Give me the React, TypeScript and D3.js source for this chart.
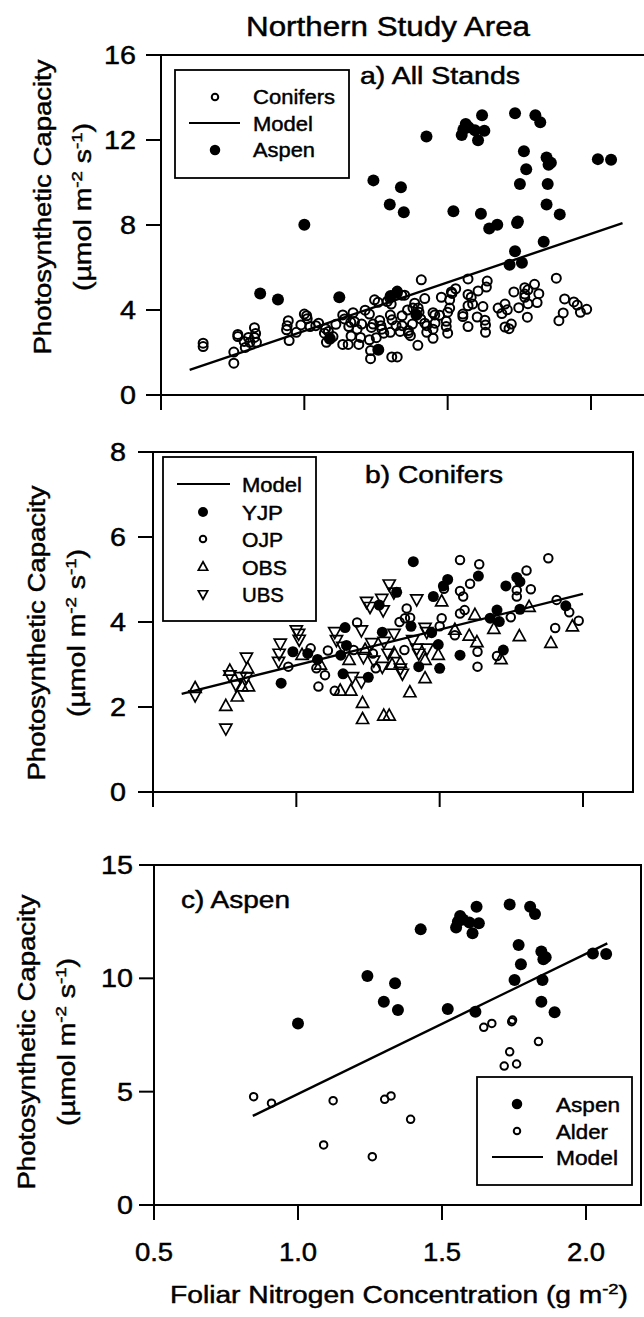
import React from "react";
import * as d3 from "d3";

const FONT = "'Liberation Sans', Arial, Helvetica, sans-serif";

// ---------------- data ----------------
type P = [number, number];

const yjp: P[] = [
  [0.947, 2.56], [0.988, 3.3], [1.04, 3.26], [1.074, 3.12], [1.155, 3.22], [1.17, 3.87], [1.163, 2.78],
  [1.175, 3.45], [1.251, 2.7], [1.289, 4.4], [1.3, 3.76], [1.35, 4.7], [1.408, 5.42], [1.4, 3.9],
  [1.427, 2.95], [1.472, 3.75], [1.478, 4.6], [1.495, 3.47], [1.5, 2.91], [1.513, 4.85], [1.528, 5.0],
  [1.571, 3.22], [1.635, 5.08], [1.676, 4.09], [1.7, 4.28], [1.708, 4.01], [1.722, 3.34], [1.731, 4.85],
  [1.769, 5.05], [1.78, 4.95], [1.78, 4.3], [1.94, 4.38],
];

const ojp: P[] = [
  [0.972, 2.95], [1.05, 3.38], [1.07, 2.91], [1.1, 2.75], [1.077, 2.48], [1.11, 3.33], [1.134, 2.38],
  [1.212, 3.99], [1.2, 3.34], [1.267, 3.26], [1.277, 2.91], [1.377, 3.34], [1.379, 4.09], [1.397, 4.1],
  [1.385, 4.32], [1.36, 4.0], [1.5, 3.9], [1.507, 4.09], [1.515, 4.78], [1.553, 3.69], [1.571, 5.46],
  [1.571, 4.73], [1.582, 4.6], [1.571, 4.2], [1.587, 4.28], [1.606, 4.9], [1.632, 3.3], [1.632, 2.95],
  [1.638, 5.36], [1.7, 3.2], [1.748, 4.11], [1.769, 4.75], [1.769, 4.6], [1.803, 5.21], [1.818, 4.77],
  [1.879, 5.5], [1.903, 3.86], [1.908, 4.52], [1.952, 4.23], [1.985, 4.03],
];

const obs: P[] = [
  [0.647, 2.44], [0.754, 2.02], [0.768, 2.85], [0.794, 2.24], [0.83, 2.9], [0.81, 2.48], [0.833, 2.48],
  [1.02, 3.22], [1.084, 2.99], [1.153, 2.38], [1.19, 2.38], [1.184, 3.1], [1.231, 2.09], [1.231, 1.71],
  [1.24, 3.34], [1.305, 1.79], [1.324, 1.79], [1.334, 2.99], [1.341, 3.26], [1.363, 3.03], [1.396, 2.34],
  [1.449, 2.67], [1.449, 3.1], [1.495, 3.22], [1.507, 4.48], [1.553, 3.81], [1.603, 3.67], [1.623, 4.16],
  [1.63, 3.52], [1.689, 3.83], [1.714, 3.12], [1.778, 3.66], [1.812, 4.35], [1.888, 3.5], [1.963, 3.89],
];

const ubs: P[] = [
  [0.647, 2.28], [0.754, 1.5], [0.768, 2.75], [0.79, 2.52], [0.826, 3.17], [0.826, 2.71], [0.805, 2.71],
  [0.944, 3.5], [0.94, 3.26], [0.938, 3.07], [1.0, 3.81], [1.008, 3.73], [1.01, 3.59], [1.134, 3.77],
  [1.14, 3.58], [1.227, 3.81], [1.162, 3.42], [1.196, 2.71], [1.227, 2.6], [1.234, 3.18], [1.263, 3.51],
  [1.27, 3.1], [1.245, 4.48], [1.257, 4.36], [1.3, 2.95], [1.32, 3.26], [1.306, 3.54], [1.341, 3.73],
  [1.363, 2.91], [1.37, 2.79], [1.406, 3.58], [1.42, 3.38], [1.427, 3.26], [1.449, 3.87], [1.456, 3.38],
  [1.298, 4.55], [1.303, 4.28], [1.324, 4.89], [1.34, 4.7], [1.42, 4.54], [1.455, 3.77],
];

const aspen: P[] = [
  [1.0, 8.01], [1.241, 10.1], [1.298, 8.97], [1.337, 9.78], [1.347, 8.6], [1.426, 12.16], [1.52, 8.65],
  [1.549, 12.24], [1.555, 12.5], [1.563, 12.75], [1.573, 12.6], [1.595, 12.46], [1.606, 11.99],
  [1.62, 13.16], [1.628, 12.43], [1.616, 8.53], [1.735, 13.26], [1.806, 13.16], [1.823, 12.84],
  [1.766, 11.47], [1.774, 10.62], [1.752, 9.93], [1.845, 11.18], [1.852, 10.84], [1.86, 10.93],
  [1.849, 9.93], [1.845, 8.97], [1.891, 8.5], [2.024, 11.1], [2.07, 11.07],
];

const alder: P[] = [
  [0.846, 4.78], [0.908, 4.49], [1.122, 4.6], [1.089, 2.65], [1.301, 4.66], [1.323, 4.81], [1.258, 2.13],
  [1.391, 3.78], [1.645, 7.84], [1.673, 8.01], [1.745, 8.16], [1.742, 8.09], [1.735, 6.76], [1.716, 6.13],
  [1.759, 6.22], [1.835, 7.21],
];

const modelA: P[] = [[0.6, 1.18], [2.11, 8.09]];
const modelB: P[] = [[0.6, 2.31], [2.0, 4.66]];
const modelC: P[] = [[0.843, 3.93], [2.074, 11.54]];

const xTicks = [0.5, 1.0, 1.5, 2.0];
const xTickLabels = ["0.5", "1.0", "1.5", "2.0"];
const yTicksA = [0, 4, 8, 12, 16];
const yTicksB = [0, 2, 4, 6, 8];
const yTicksC = [0, 5, 10, 15];

// ---------------- helpers ----------------
function Txt(props: {
  x: number; y: number; size: number; anchor?: string; rot?: number; w?: number; sx?: number;
  children: React.ReactNode;
}) {
  const { x, y, size, anchor = "start", rot = 0, w, sx = 1.2, children } = props;
  const tf = `translate(${x},${y}) rotate(${rot})` + (w ? "" : ` scale(${sx},1)`);
  return (
    <text
      transform={tf}
      fontSize={size}
      textAnchor={anchor as any}
      fontFamily={FONT}
      fill="#000"
      stroke="#000"
      strokeWidth={0.45}
      {...(w ? { textLength: w, lengthAdjust: "spacingAndGlyphs" } : {})}
    >
      {children}
    </text>
  );
}

const triUp = (s: number) => `M0,${-s * 0.62}L${s * 0.55},${s * 0.38}L${-s * 0.55},${s * 0.38}Z`;
const triDown = (s: number) => `M0,${s * 0.62}L${s * 0.55},${-s * 0.38}L${-s * 0.55},${-s * 0.38}Z`;

type Mark = "open" | "filled" | "up" | "down";
function Marker({ x, y, kind, size, sw = 2 }: { x: number; y: number; kind: Mark; size: number; sw?: number }) {
  if (kind === "filled") return <circle cx={x} cy={y} r={size / 2} fill="#000" />;
  if (kind === "open")
    return <circle cx={x} cy={y} r={size / 2 - sw / 2} fill="none" stroke="#000" strokeWidth={sw} />;
  return (
    <path
      transform={`translate(${x},${y})`}
      d={kind === "up" ? triUp(size) : triDown(size)}
      fill="none"
      stroke="#000"
      strokeWidth={1.7}
      strokeLinejoin="miter"
    />
  );
}

function Axes({
  x, y, right, yTicks, yLabelRight, showX,
}: {
  x: d3.ScaleLinear<number, number>; y: d3.ScaleLinear<number, number>; right: number;
  yTicks: number[]; yLabelRight: number; showX: boolean;
}) {
  const [y0, y1] = y.range();
  const x0 = x(0.5);
  return (
    <g>
      <rect x={x0} y={y1} width={right - x0} height={y0 - y1} fill="none" stroke="#000" strokeWidth={2} />
      {yTicks.map((t) => (
        <g key={"y" + t}>
          <line x1={x0 - 15} x2={x0} y1={y(t)} y2={y(t)} stroke="#000" strokeWidth={2} />
          <Txt x={yLabelRight} y={y(t) + 9} size={25} anchor="end" sx={1.15}>{String(t)}</Txt>
        </g>
      ))}
      {xTicks.map((t, i) => (
        <g key={"x" + t}>
          <line x1={x(t)} x2={x(t)} y1={y0} y2={y0 + 15} stroke="#000" strokeWidth={2} />
          {showX && <Txt x={x(t)} y={y0 + 56} size={25} anchor="middle" sx={1.1}>{xTickLabels[i]}</Txt>}
        </g>
      ))}
    </g>
  );
}

function YTitle({ x1, x2, cy }: { x1: number; x2: number; cy: number }) {
  return (
    <g>
      <Txt x={x1} y={cy} size={23} anchor="middle" rot={-90} w={295}>Photosynthetic Capacity</Txt>
      <Txt x={x2} y={cy} size={23} anchor="middle" rot={-90} w={168}>
        (µmol m<tspan dy={-9} fontSize={15}>-2</tspan>
        <tspan dy={9}> s</tspan>
        <tspan dy={-9} fontSize={15}>-1</tspan>
        <tspan dy={9}>)</tspan>
      </Txt>
    </g>
  );
}

function ModelLine({ pts, x, y }: { pts: P[]; x: any; y: any }) {
  const line = d3.line<P>().x((d) => x(d[0])).y((d) => y(d[1]));
  return <path d={line(pts) || ""} fill="none" stroke="#000" strokeWidth={2.4} />;
}

export default function App() {
  const xA = d3.scaleLinear().domain([0.5, 2.0]).range([161, 591]);
  const yA = d3.scaleLinear().domain([0, 16]).range([395, 55]);
  const xB = d3.scaleLinear().domain([0.5, 2.0]).range([153, 583]);
  const yB = d3.scaleLinear().domain([0, 8]).range([792, 452]);
  const xC = d3.scaleLinear().domain([0.5, 2.0]).range([154, 586]);
  const yC = d3.scaleLinear().domain([0, 15]).range([1205, 865]);

  const conifersAll: P[] = [...yjp, ...ojp, ...obs, ...ubs];
  const aspenAll: P[] = [...aspen, ...alder];

  return (
    <svg
      width={644}
      height={1317}
      style={{ position: "absolute", left: 0, top: 0, background: "#fff", display: "block" }}
    >
      <rect x={0} y={0} width={644} height={1317} fill="#fff" />
      <Txt x={246} y={36} size={27} w={284}>Northern Study Area</Txt>

      {/* ---------- Panel a ---------- */}
      <Axes x={xA} y={yA} right={650} yTicks={yTicksA} yLabelRight={136} showX={false} />
      <YTitle x1={51} x2={91} cy={207} />
      <Txt x={360} y={84} size={23} w={160}>a) All Stands</Txt>
      {conifersAll.map((d, i) => (
        <Marker key={"ac" + i} x={xA(d[0])} y={yA(d[1])} kind="open" size={11} />
      ))}
      {aspenAll.map((d, i) => (
        <Marker key={"aa" + i} x={xA(d[0])} y={yA(d[1])} kind="filled" size={12} />
      ))}
      <ModelLine pts={modelA} x={xA} y={yA} />
      <rect x={175} y={70} width={174} height={108} fill="#fff" stroke="#000" strokeWidth={1.8} />
      <Marker x={215} y={97} kind="open" size={8.5} />
      <Txt x={253} y={104} size={21} w={82}>Conifers</Txt>
      <line x1={189} x2={240} y1={123} y2={123} stroke="#000" strokeWidth={2.2} />
      <Txt x={253} y={131} size={21} w={60}>Model</Txt>
      <Marker x={215} y={150} kind="filled" size={10.5} />
      <Txt x={253} y={157} size={21} w={62}>Aspen</Txt>

      {/* ---------- Panel b ---------- */}
      <Axes x={xB} y={yB} right={633} yTicks={yTicksB} yLabelRight={126} showX={false} />
      <YTitle x1={45} x2={85} cy={633} />
      <Txt x={365} y={483} size={23} w={138}>b) Conifers</Txt>
      {ojp.map((d, i) => (
        <Marker key={"bo" + i} x={xB(d[0])} y={yB(d[1])} kind="open" size={10.5} />
      ))}
      {obs.map((d, i) => (
        <Marker key={"bt" + i} x={xB(d[0])} y={yB(d[1])} kind="up" size={11} />
      ))}
      {ubs.map((d, i) => (
        <Marker key={"bu" + i} x={xB(d[0])} y={yB(d[1])} kind="down" size={11} />
      ))}
      {yjp.map((d, i) => (
        <Marker key={"by" + i} x={xB(d[0])} y={yB(d[1])} kind="filled" size={11} />
      ))}
      <ModelLine pts={modelB} x={xB} y={yB} />
      <rect x={163} y={457} width={153} height={164} fill="#fff" stroke="#000" strokeWidth={1.8} />
      <line x1={177} x2={230} y1={484} y2={484} stroke="#000" strokeWidth={2.2} />
      <Txt x={242} y={492} size={21} w={60}>Model</Txt>
      <Marker x={203} y={512} kind="filled" size={10} />
      <Txt x={242} y={520} size={21} w={41}>YJP</Txt>
      <Marker x={203} y={539} kind="open" size={8.5} />
      <Txt x={242} y={547} size={21} w={41}>OJP</Txt>
      <Marker x={203} y={567} kind="up" size={8.5} />
      <Txt x={242} y={575} size={21} w={45}>OBS</Txt>
      <Marker x={203} y={594} kind="down" size={8.5} />
      <Txt x={242} y={602} size={21} w={42}>UBS</Txt>

      {/* ---------- Panel c ---------- */}
      <Axes x={xC} y={yC} right={641} yTicks={yTicksC} yLabelRight={133} showX={true} />
      <YTitle x1={35} x2={75} cy={1042} />
      <Txt x={181} y={908} size={23} w={109}>c) Aspen</Txt>
      {aspen.map((d, i) => (
        <Marker key={"ca" + i} x={xC(d[0])} y={yC(d[1])} kind="filled" size={12} />
      ))}
      {alder.map((d, i) => (
        <Marker key={"cl" + i} x={xC(d[0])} y={yC(d[1])} kind="open" size={9.5} />
      ))}
      <ModelLine pts={modelC} x={xC} y={yC} />
      <rect x={477} y={1077} width={155} height={108} fill="#fff" stroke="#000" strokeWidth={1.8} />
      <Marker x={517} y={1104} kind="filled" size={10.5} />
      <Txt x={556} y={1112} size={21} w={64}>Aspen</Txt>
      <Marker x={517} y={1131} kind="open" size={8.5} />
      <Txt x={556} y={1139} size={21} w={52}>Alder</Txt>
      <line x1={492} x2={543} y1={1157} y2={1157} stroke="#000" strokeWidth={2.2} />
      <Txt x={556} y={1165} size={21} w={62}>Model</Txt>

      <Txt x={170} y={1303} size={23} w={458}>
        Foliar Nitrogen Concentration (g m<tspan dy={-9} fontSize={15}>-2</tspan>
        <tspan dy={9}>)</tspan>
      </Txt>
    </svg>
  );
}
